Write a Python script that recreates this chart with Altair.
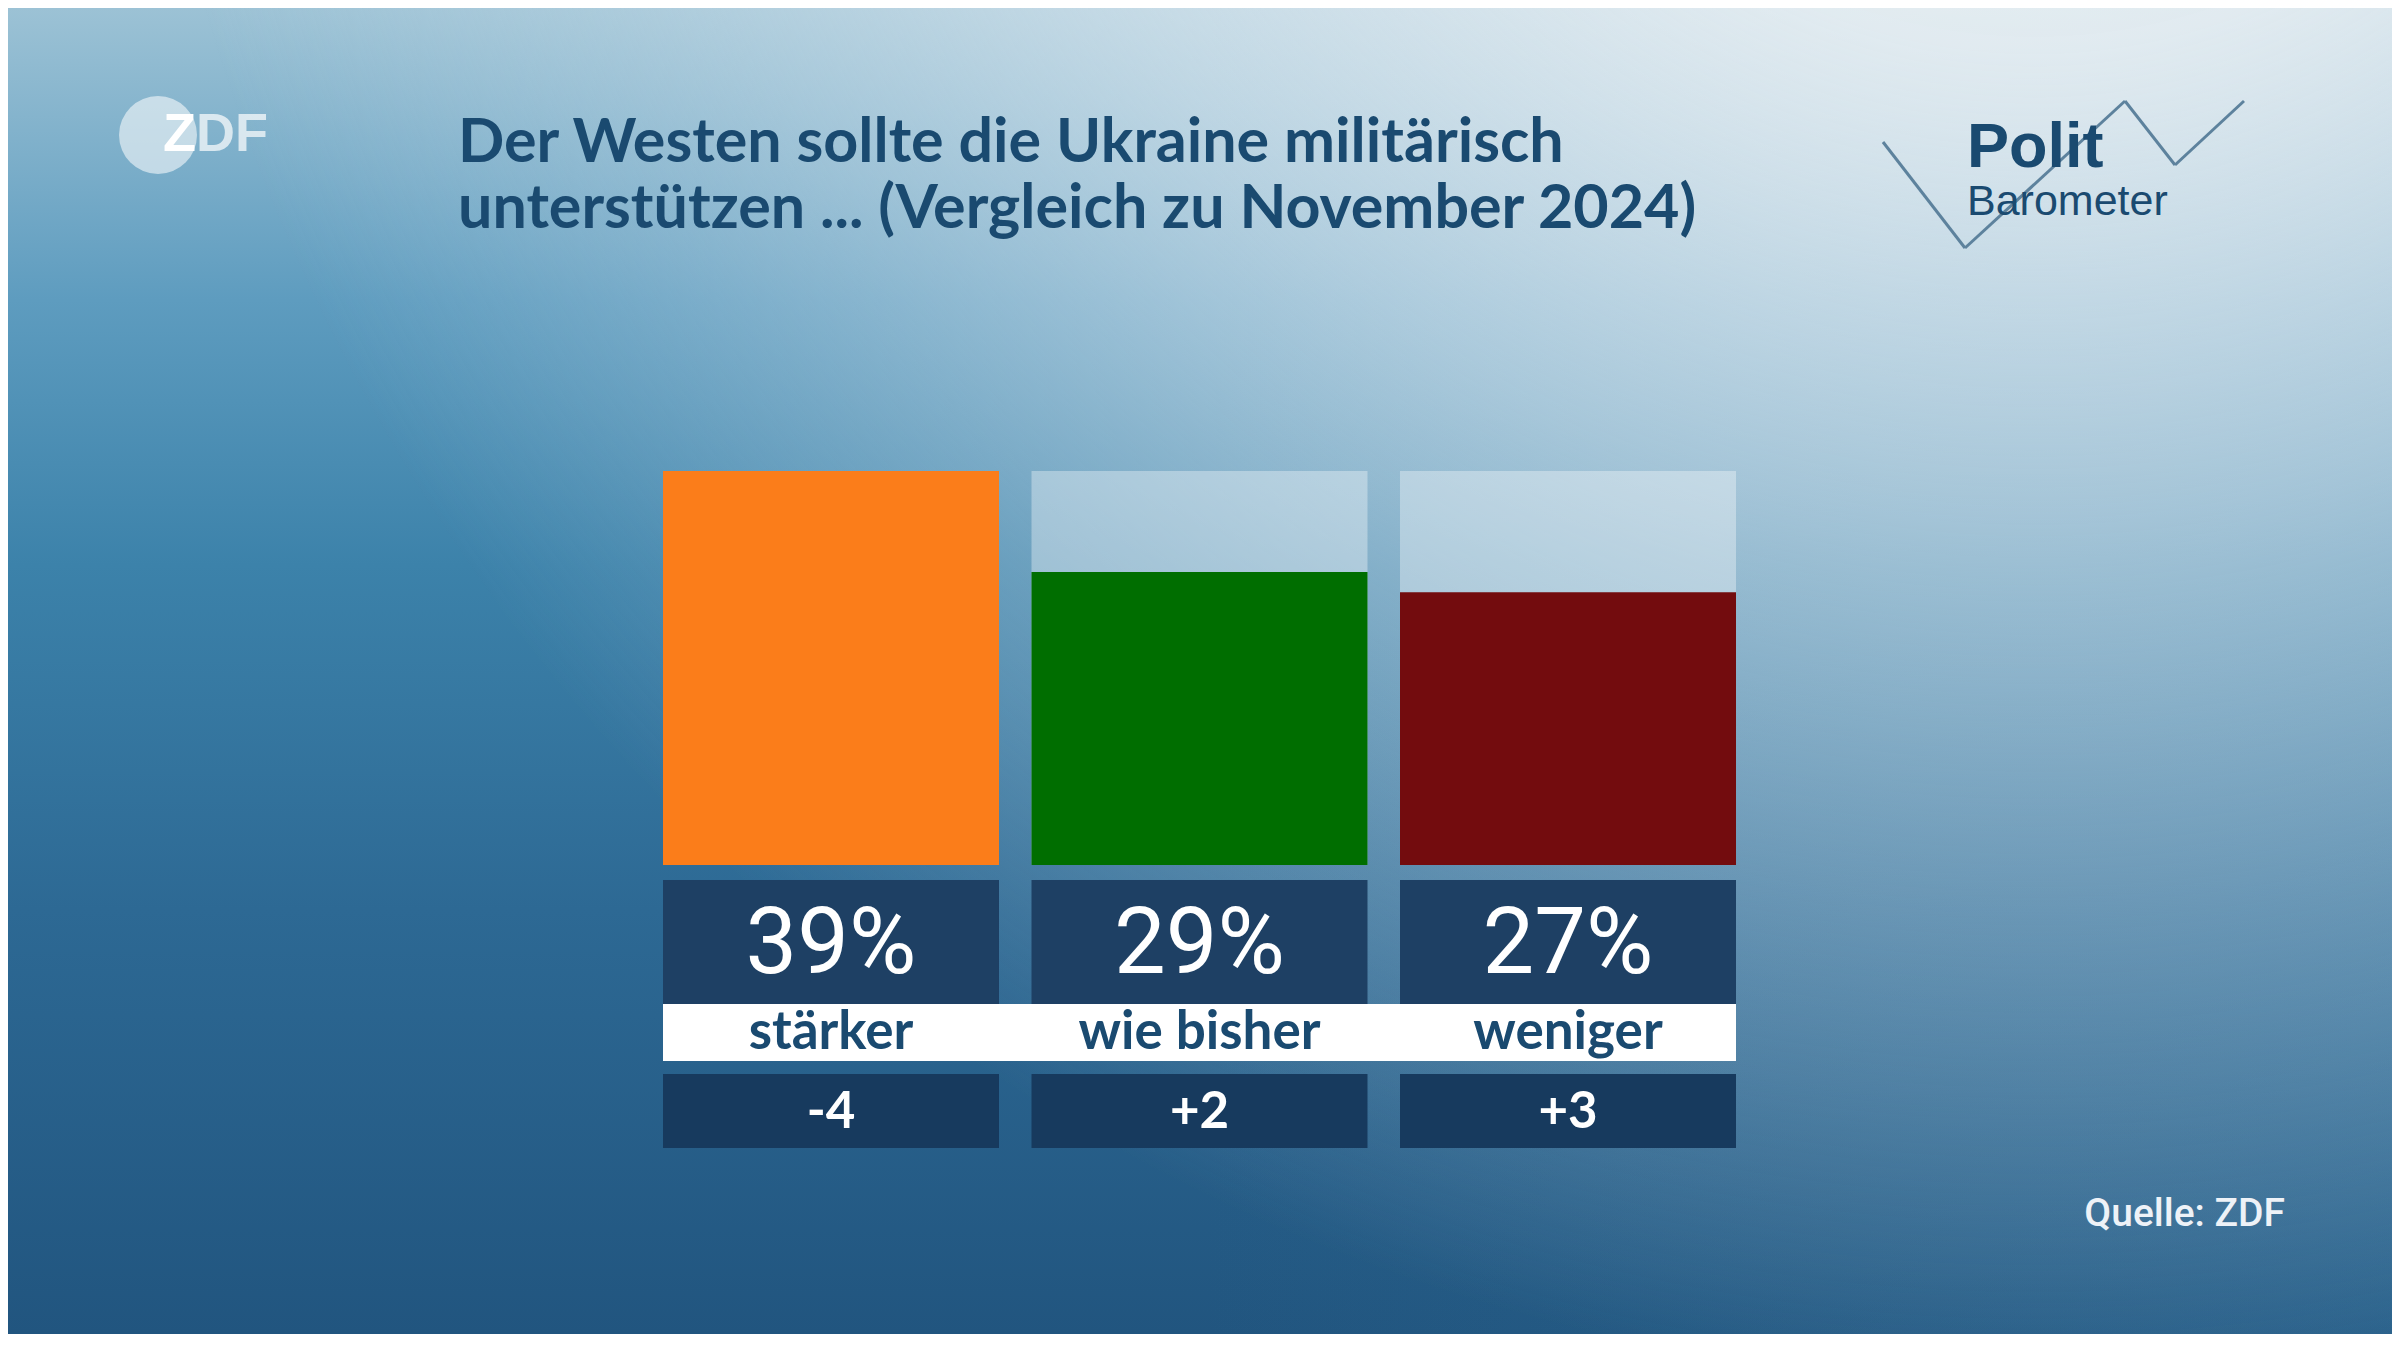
import altair as alt
import pandas as pd

# ---- data ----
categories = ["stärker", "wie bisher", "weniger"]
shares = [39, 29, 27]
changes = [-4, 2, 3]
bar_colors = ["#fb7d1a", "#006e00", "#730c0e"]

title_lines = ["Der Westen sollte die Ukraine militärisch",
               "unterstützen ... (Vergleich zu November 2024)"]
source_text = "Quelle: ZDF"

df = pd.DataFrame({"cat": categories, "share": shares, "change": changes})
df["full"] = max(shares)
df["pct"] = [f"{s}%" for s in shares]
df["chg"] = [f"{c:+d}" for c in changes]

one = pd.DataFrame({"k": [0]})

# ---- layout (plot area = bar block) ----
W, H = 1073, 394
PAD = {"left": 655, "top": 463, "right": 656, "bottom": 469}
TOTAL_W = W + PAD["left"] + PAD["right"]
TOTAL_H = H + PAD["top"] + PAD["bottom"]

DARK = "#1a4a70"
FONT_T = "Lato"
FONT_N = "Roboto"

xenc = alt.X("cat:N", sort=categories,
             scale=alt.Scale(domain=categories, paddingInner=0.0882, paddingOuter=0),
             axis=None)
yscale = alt.Scale(domain=[0, max(shares)], nice=False, zero=True)

full_x = dict(x=alt.value(-PAD["left"]), x2=alt.value(TOTAL_W - PAD["left"]),
              y=alt.value(-PAD["top"]), y2=alt.value(TOTAL_H - PAD["top"]))

# ---- background ----
bg_lin = alt.Chart(one).mark_rect(
    color=alt.LinearGradient(
        gradient="linear", x1=0, y1=0, x2=0, y2=1,
        stops=[alt.GradientStop(color="#9cc2d5", offset=0),
               alt.GradientStop(color="#5e9cbf", offset=0.22),
               alt.GradientStop(color="#3c82aa", offset=0.42),
               alt.GradientStop(color="#2d6994", offset=0.68),
               alt.GradientStop(color="#21557f", offset=1)])
).encode(**full_x)

bg_side = alt.Chart(one).mark_rect(
    color=alt.LinearGradient(
        gradient="linear", x1=0, y1=0, x2=1, y2=0,
        stops=[alt.GradientStop(color="rgba(60,130,170,0)", offset=0),
               alt.GradientStop(color="rgba(60,130,170,0)", offset=0.5),
               alt.GradientStop(color="rgba(70,135,175,0.25)", offset=1)])
).encode(**full_x)

bg_glow = alt.Chart(one).mark_rect(
    color=alt.RadialGradient(
        gradient="radial", x1=0.85, y1=0.0, r1=0, x2=0.85, y2=0.0, r2=0.8,
        stops=[alt.GradientStop(color="rgba(238,242,245,1)", offset=0),
               alt.GradientStop(color="rgba(232,239,243,0.92)", offset=0.3),
               alt.GradientStop(color="rgba(222,233,240,0.62)", offset=0.55),
               alt.GradientStop(color="rgba(212,227,236,0.28)", offset=0.8),
               alt.GradientStop(color="rgba(212,227,236,0)", offset=1)])
).encode(**full_x)

# ---- bars ----
base = alt.Chart(df)
gray = base.mark_bar(color="white", opacity=0.35).encode(
    x=xenc, y=alt.Y("full:Q", scale=yscale, axis=None))
bars = base.mark_bar().encode(
    x=xenc, y=alt.Y("share:Q", scale=yscale, axis=None),
    color=alt.Color("cat:N", scale=alt.Scale(domain=categories, range=bar_colors), legend=None))

pct_box = base.mark_rect(color="#1e4064").encode(x=xenc, y=alt.value(409), y2=alt.value(533))
white_band = alt.Chart(one).mark_rect(color="white").encode(
    x=alt.value(0), x2=alt.value("width"), y=alt.value(533), y2=alt.value(590))
chg_box = base.mark_rect(color="#173a5e").encode(x=xenc, y=alt.value(603), y2=alt.value(677))

pct_text = base.mark_text(font=FONT_N, fontSize=92, color="white", baseline="middle").encode(
    x=xenc, y=alt.value(474), text="pct:N")
cat_text = base.mark_text(font=FONT_T, fontSize=53, fontWeight="bold", color=DARK,
                          baseline="middle").encode(x=xenc, y=alt.value(562), text="cat:N")
chg_text = base.mark_text(font=FONT_T, fontSize=51, fontWeight="bold", color="white",
                          baseline="middle").encode(x=xenc, y=alt.value(642), text="chg:N")

# ---- title (two lines) ----
title_layers = []
for i, line in enumerate(title_lines):
    title_layers.append(alt.Chart(one).mark_text(
        text=line, font=FONT_T, fontSize=61, fontWeight="bold", color=DARK,
        align="left", baseline="alphabetic"
    ).encode(x=alt.value(-205), y=alt.value(-309 + 66 * i)))

# ---- ZDF logo ----
zdf_circle = alt.Chart(one).mark_circle(color="white", opacity=0.55, size=6080).encode(
    x=alt.value(-505), y=alt.value(-336))
zdf_z = alt.Chart(one).mark_text(text="Z", font="Liberation Sans", fontSize=54, fontWeight="bold",
                                 color="white", align="left", baseline="middle").encode(
    x=alt.value(-500), y=alt.value(-336))
zdf_df = alt.Chart(one).mark_text(text="DF", font="Liberation Sans", fontSize=54, fontWeight="bold",
                                  color="white", opacity=0.7, align="left", baseline="middle").encode(
    x=alt.value(-467), y=alt.value(-336))

# ---- Politbarometer logo ----
zig = [(1220, -329), (1302, -223), (1462, -370), (1512, -306), (1581, -370)]
zig_layers = []
for (ax, ay), (bx, by) in zip(zig[:-1], zig[1:]):
    zig_layers.append(alt.Chart(one).mark_rule(color="#5d829d", strokeWidth=3).encode(
        x=alt.value(ax), y=alt.value(ay), x2=alt.value(bx), y2=alt.value(by)))

def logo_txt(t, x, y, size, weight, color):
    return alt.Chart(one).mark_text(text=t, font="Liberation Sans", fontSize=size, fontWeight=weight,
                                    color=color, align="left", baseline="alphabetic").encode(
        x=alt.value(x), y=alt.value(y))

polit = logo_txt("Polit", 1304, -304, 63, "bold", DARK)
baro = logo_txt("Barometer", 1304, -256, 43, "normal", DARK)

source = alt.Chart(one).mark_text(text=source_text, font=FONT_N, fontSize=39, fontWeight=500,
                                  color="#eef2f7", align="right", baseline="middle").encode(
    x=alt.value(1622), y=alt.value(743))

chart = alt.layer(
    bg_lin, bg_side, bg_glow, gray, bars, pct_box, white_band, chg_box,
    pct_text, cat_text, chg_text, *title_layers, zdf_circle, zdf_z, zdf_df,
    *zig_layers, polit, baro, source
).properties(
    width=W, height=H, padding=PAD, autosize=alt.AutoSizeParams(type="none"),
    background="#2a6690"
).configure_view(strokeWidth=0)

chart.save("out.html", embed_options={"renderer": "svg", "actions": False})
